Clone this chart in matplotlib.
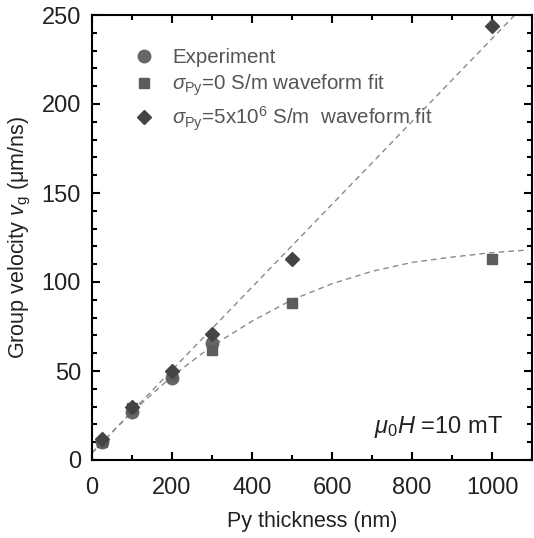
import matplotlib
matplotlib.use("Agg")
import matplotlib.pyplot as plt
from matplotlib.ticker import MultipleLocator

plt.rcParams['font.family'] = ['Liberation Sans', 'DejaVu Sans']
plt.rcParams['mathtext.fontset'] = 'custom'
plt.rcParams['mathtext.rm'] = 'Liberation Sans'
plt.rcParams['mathtext.it'] = 'Liberation Sans:italic'

# data
exp_x = [25, 100, 200, 300]
exp_y = [10, 27, 46, 66]
s0_x = [25, 100, 200, 300, 500, 1000]
s0_y = [10, 29, 48, 62, 88, 113]
s5_x = [25, 100, 200, 300, 500, 1000]
s5_y = [12, 30, 50, 71, 113, 244]
lin_x = [0, 1100]
lin_y = [4, 260]
fit_x = [0, 100, 200, 300, 400, 500, 600, 700, 800, 900, 1000, 1090]
fit_y = [4, 27, 47, 64, 78, 90, 99, 106, 111, 114, 116.5, 118]

fig = plt.figure(figsize=(5.34, 5.38), dpi=100)
ax = fig.add_axes([92/534, 78/538, 440/534, 445/538])

ax.plot(lin_x, lin_y, ls=(0, (4, 3)), color='#8a8a8a', lw=1.0, zorder=1)
ax.plot(fit_x, fit_y, ls=(0, (4, 3)), color='#8a8a8a', lw=1.0, zorder=1)

ax.plot(exp_x, exp_y, 'o', color='#666666', ms=9, ls='none', label='Experiment', zorder=2)
ax.plot(s0_x, s0_y, 's', color='#5c5c5c', ms=7, ls='none',
        label=r'$\sigma_{\rm Py}$=0 S/m waveform fit', zorder=3)
ax.plot(s5_x, s5_y, 'D', color='#444444', ms=7, ls='none',
        label=r'$\sigma_{\rm Py}$=5x10$^{6}$ S/m  waveform fit', zorder=4)

ax.set_xlim(0, 1100)
ax.set_ylim(0, 250)
ax.xaxis.set_major_locator(MultipleLocator(200))
ax.xaxis.set_minor_locator(MultipleLocator(100))
ax.yaxis.set_major_locator(MultipleLocator(50))
ax.yaxis.set_minor_locator(MultipleLocator(10))
ax.tick_params(which='both', direction='in', top=True, right=True, labelsize=17,
               width=1.5, labelcolor='#222222')
ax.tick_params(which='major', length=6)
ax.tick_params(which='minor', length=3.5)
ax.tick_params(axis='x', pad=12)
ax.tick_params(axis='y', pad=8)
for sp in ax.spines.values():
    sp.set_linewidth(1.5)

ax.set_xlabel('Py thickness (nm)', fontsize=15.5, color='#222222', labelpad=9)
ax.set_ylabel('Group velocity $v_{\\rm g}$ (\u03bcm/ns)', fontsize=15.5, color='#222222', labelpad=6)

leg = ax.legend(loc='upper left', bbox_to_anchor=(0.08, 0.945), frameon=False, fontsize=14.8,
                handletextpad=1.0, labelspacing=0.3, handlelength=0.8, borderaxespad=0)
for t in leg.get_texts():
    t.set_color('#555555')

ax.text(0.935, 0.075, r'$\mu_0H$ =10 mT', transform=ax.transAxes, ha='right', va='center',
        fontsize=17, color='#222222')

fig.savefig('out.png', dpi=100)
